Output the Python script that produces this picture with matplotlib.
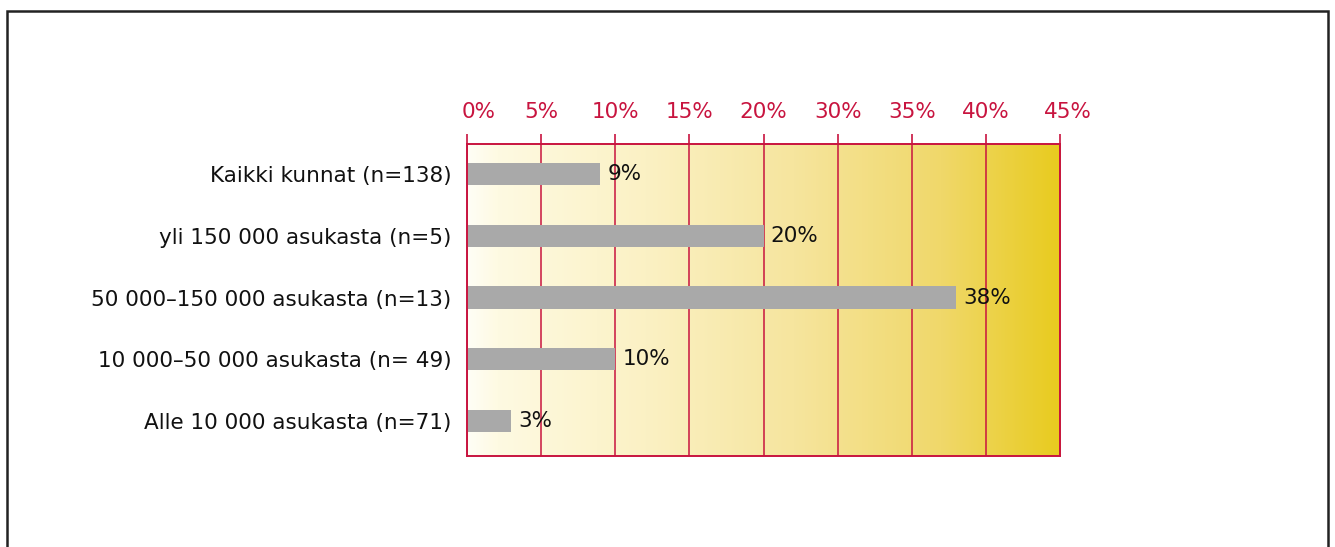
import numpy as np
import matplotlib
matplotlib.use("Agg")
import matplotlib.pyplot as plt
from matplotlib.colors import LinearSegmentedColormap
from matplotlib.patches import Rectangle
from matplotlib.transforms import ScaledTranslation

# Data
categories = [
    "Kaikki kunnat (n=138)",
    "yli 150 000 asukasta (n=5)",
    "50 000\u2013150 000 asukasta (n=13)",
    "10 000\u201350 000 asukasta (n= 49)",
    "Alle 10 000 asukasta (n=71)",
]
shares = [9, 20, 38, 10, 3]
tick_values = [0, 5, 10, 15, 20, 30, 35, 40, 45]
tick_labels = ["0%", "5%", "10%", "15%", "20%", "30%", "35%", "40%", "45%"]

CRIMSON = "#C8143F"
BAR = "#A9A9A9"
FS = 15.5

plt.rcParams["font.family"] = ["DejaVu Sans"]

fig = plt.figure(figsize=(13.35, 5.47), dpi=100)
ax = fig.add_axes([0.3498, 0.1664, 0.4443, 0.5703])

# Axis ticks are evenly spaced in position; map the labelled values onto them
idx = np.arange(len(tick_values), dtype=float)
tv = np.array(tick_values, dtype=float)


def fwd(v):
    return np.interp(v, tv, idx)


def inv(u):
    return np.interp(u, idx, tv)


ax.set_xscale("function", functions=(fwd, inv))

# Background gradient, light cream to golden yellow
cmap = LinearSegmentedColormap.from_list(
    "cream_gold",
    [(0.0, "#FFFEF6"), (0.05, "#FEFAE2"), (0.3, "#FBF1C4"),
     (0.55, "#F6E59E"), (0.8, "#F0D86A"), (1.0, "#E8CB1E")],
)
grad = np.linspace(0, 1, 512).reshape(1, -1)
ax.imshow(grad, cmap=cmap, extent=(0, 1, 0, 1), transform=ax.transAxes,
          aspect="auto", zorder=0, interpolation="bicubic")

y = np.arange(len(categories))
ax.barh(y, shares, height=0.36, color=BAR, zorder=3)

for yi, v in zip(y, shares):
    ax.annotate(f"{v}%", (v, yi), xytext=(5, 0), textcoords="offset points",
                va="center", ha="left", fontsize=FS, color="#111111", zorder=4)

ax.set_xlim(0, 45)
ax.set_ylim(4.567, -0.486)

ax.set_xticks(tick_values)
ax.set_xticklabels(tick_labels)
ax.xaxis.set_ticks_position("top")
ax.xaxis.set_label_position("top")
ax.tick_params(axis="x", direction="out", length=7.5, width=1.2, color=CRIMSON,
               labelcolor=CRIMSON, labelsize=FS, pad=8)
ax.grid(axis="x", color=CRIMSON, linewidth=1.1, zorder=1)
ax.set_axisbelow(True)

# Nudge the end labels inward/outward slightly
xlabels = ax.get_xticklabels()
xlabels[0].set_transform(xlabels[0].get_transform()
                         + ScaledTranslation(12 / 100, 0, fig.dpi_scale_trans))
xlabels[-1].set_transform(xlabels[-1].get_transform()
                          + ScaledTranslation(8 / 100, 0, fig.dpi_scale_trans))

ax.set_yticks(y)
ax.set_yticklabels(categories)
ax.tick_params(axis="y", length=0, labelsize=FS, pad=11, labelcolor="#111111")

for side in ("top", "bottom", "left", "right"):
    ax.spines[side].set_color(CRIMSON)
    ax.spines[side].set_linewidth(1.4)
    ax.spines[side].set_zorder(5)

# Outer frame around the figure (bottom edge falls outside the canvas)
frame = Rectangle((7 / 1335, -0.05), (1328 - 7) / 1335, 1 - 11 / 547 + 0.05,
                  transform=fig.transFigure, fill=False, edgecolor="#222222",
                  linewidth=1.8, zorder=10)
fig.patches.append(frame)

fig.savefig("out.png", dpi=100)
